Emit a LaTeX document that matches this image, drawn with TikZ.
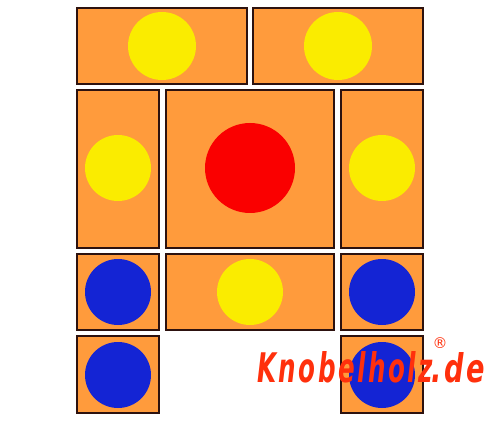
\documentclass[tikz,border=0pt]{standalone}
\usepackage{fontspec}
\usepackage{xcolor}
\newfontfamily\logofont{DejaVu Sans}[LetterSpace=10]

\definecolor{woodorange}{RGB}{255,155,60}
\definecolor{woodedge}{RGB}{45,18,15}
\definecolor{ballyellow}{RGB}{250,236,0}
\definecolor{ballred}{RGB}{250,0,0}
\definecolor{ballblue}{RGB}{20,36,212}
\definecolor{logored}{RGB}{255,48,12}

\begin{document}
\begin{tikzpicture}[x=0.02cm, y=-0.02cm,
	piece/.style={fill=woodorange, draw=woodedge, line width=1.1pt},
	ball/.style={draw=none},
	logotext/.style={inner sep=0, text=logored}]
	\useasboundingbox (0,0) rectangle (500,422);

	\begin{scope}
    \draw[piece] (77,8) rectangle (247,84); % oben links
    \draw[piece] (253,8) rectangle (423,84); % oben rechts
    \draw[piece] (77,90) rectangle (159,248); % links hoch
    \draw[piece] (166,90) rectangle (334,248); % grosser Stein
    \draw[piece] (341,90) rectangle (423,248); % rechts hoch
    \draw[piece] (77,254) rectangle (159,330);
    \draw[piece] (166,254) rectangle (334,330); % quer
    \draw[piece] (341,254) rectangle (423,330);
    \draw[piece] (77,336) rectangle (159,413);
    \draw[piece] (341,336) rectangle (423,413);

    \fill[ball, ballyellow] (162,46) circle (34);
    \fill[ball, ballyellow] (338,46) circle (34);
    \fill[ball, ballyellow] (118,168) circle (33);
    \fill[ball, ballred] (250,168) circle (45);
    \fill[ball, ballyellow] (382,168) circle (33);
    \fill[ball, ballblue] (118,292) circle (33);
    \fill[ball, ballyellow] (250,292) circle (33);
    \fill[ball, ballblue] (382,292) circle (33);
    \fill[ball, ballblue] (118,375) circle (33);
    \fill[ball, ballblue] (382,375) circle (33);
	\end{scope}

    % Schriftzug
    \node[logotext, anchor=south west] (logo) at (257,383)
      {\resizebox{3.46cm}{0.62cm}{\logofont\bfseries\itshape Knobelholz\kern-0.1em}};
    \node[logotext, anchor=south west] (dom) at (431,383)
      {\resizebox{1.02cm}{0.6cm}{\logofont\bfseries\itshape .de\kern-0.1em}};
    \node[logotext, anchor=south] (mark) at (440,349)
      {\logofont\fontsize{8.5}{8.5}\selectfont\textregistered};
\end{tikzpicture}
\end{document}
